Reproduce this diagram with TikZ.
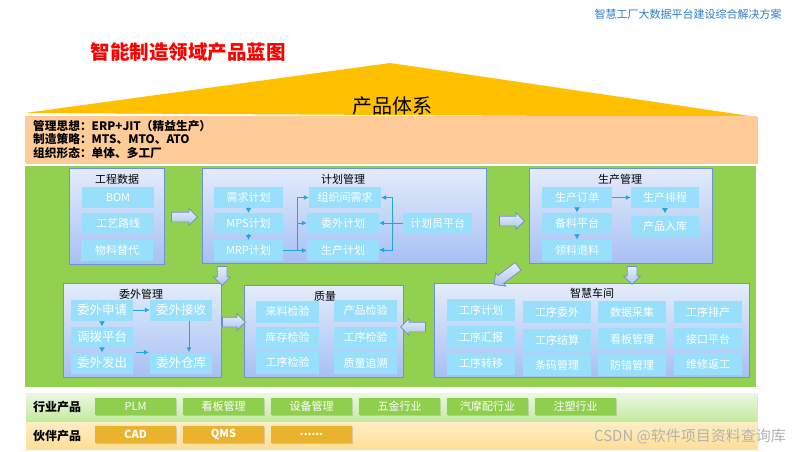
\documentclass[tikz,border=0pt]{standalone}
\usepackage{fontspec}
\setmainfont{Noto Sans CJK SC}
\usetikzlibrary{shapes.arrows,shadows,arrows.meta,calc}
\definecolor{gold}{HTML}{FFC000}
\definecolor{peach}{HTML}{FFCC99}
\definecolor{lgreen}{HTML}{92D050}
\definecolor{modtop}{HTML}{E4ECFB}
\definecolor{modbot}{HTML}{A7C0F4}
\definecolor{modline}{HTML}{6D93D6}
\definecolor{itemfill}{HTML}{97DFFA}
\definecolor{arrblue}{HTML}{1BA6E4}
\definecolor{batop}{HTML}{E6EEFB}
\definecolor{babot}{HTML}{B0C6EE}
\definecolor{baline}{HTML}{6A8DCB}
\definecolor{hytop}{HTML}{EBF8E1}
\definecolor{hybot}{HTML}{C3EA9F}
\definecolor{hbtn}{HTML}{8FCF4E}
\definecolor{pttop}{HTML}{FFEDC4}
\definecolor{ptbot}{HTML}{FFDF98}
\definecolor{pbtn}{HTML}{EBB22E}
\definecolor{hdrblue}{HTML}{2E7DC8}
\newcommand\myfs[1]{\fontsize{#1}{#1}\selectfont}
\tikzset{
  module/.style={draw=modline, line width=0.8pt, top color=modtop, bottom color=modbot,
    drop shadow={opacity=0.35, shadow xshift=1pt, shadow yshift=-1pt}, inner sep=0pt},
  mtitle/.style={font=\myfs{11}, text=black, inner sep=0pt},
  item/.style={fill=itemfill, text=white, font=\myfs{11}, inner sep=0pt,
    minimum width=70pt, minimum height=21pt},
  witem/.style={item, font=\myfs{12.5}, minimum width=62pt},
  arr/.style={draw=arrblue, line width=0.9pt, -{Latex[length=5pt,width=5pt]}},
  tri/.style={draw=arrblue, line width=0.9pt, -{Latex[length=5pt,width=6pt]}},
  barrow/.style={single arrow, draw=baline, line width=0.7pt, top color=batop, bottom color=babot,
    minimum width=16pt, inner xsep=0pt, inner ysep=4.5pt, single arrow head extend=3.5pt},
  hbutton/.style={fill=hbtn, text=white, font=\myfs{11}, inner sep=0pt, minimum width=81pt,
    minimum height=17pt, drop shadow={opacity=0.3, shadow xshift=0.8pt, shadow yshift=-0.8pt}},
  pbutton/.style={hbutton, fill=pbtn, font=\myfs{11}\bfseries},
  barlabel/.style={font=\myfs{12}\bfseries, text=black, inner sep=0pt},
  infotext/.style={font=\myfs{11.7}\bfseries, text=black, inner sep=0pt, anchor=west}
}
\begin{document}
\begin{tikzpicture}[x=1pt,y=-1pt]
\useasboundingbox (0,0) rectangle (800,451);
\fill[white] (0,0) rectangle (800,451);

% header texts
\node[text=hdrblue, font=\myfs{11}, inner sep=0pt] (hdr) at (688,14) {智慧工厂大数据平台建设综合解决方案};
\node[text=red, font=\myfs{19.5}\bfseries, inner sep=0pt] (ttl) at (188,52) {智能制造领域产品蓝图};

% roof
\fill[gold] (25,113) -- (390,63) -- (757,117) -- cycle;
\node[font=\myfs{20}, text=black, inner sep=0pt] (roof) at (392,106) {产品体系};

% peach info box
\node[fill=peach, minimum width=732pt, minimum height=47pt, inner sep=0pt,
  drop shadow={opacity=0.35, shadow xshift=1pt, shadow yshift=-1pt}] (info) at (391,139.5) {};
\node[infotext] (i1) at (33,126) {管理思想：ERP+JIT（精益生产）};
\node[infotext] (i2) at (33,139.5) {制造策略：MTS、MTO、ATO};
\node[infotext] (i3) at (33,153) {组织形态：单体、多工厂};

% green area
\fill[lgreen] (25,166) rectangle (756,387);

% ---- modules ----
\node[module, minimum width=95pt, minimum height=96pt] (gc) at (116.5,216) {};
\node[module, minimum width=284pt, minimum height=95pt] (jh) at (344,215.5) {};
\node[module, minimum width=183pt, minimum height=95pt] (sc) at (620.5,215.5) {};
\node[module, minimum width=158pt, minimum height=94pt] (ww) at (142,330) {};
\node[module, minimum width=159pt, minimum height=92pt] (zl) at (323.5,331) {};
\node[module, minimum width=315pt, minimum height=94pt] (cj) at (591.5,330) {};

\node[mtitle] (gct) at (117,179) {工程数据};
\node[mtitle] (jht) at (343,179) {计划管理};
\node[mtitle] (sct) at (620,179) {生产管理};
\node[mtitle] (wwt) at (141,294) {委外管理};
\node[mtitle] (zlt) at (325,296) {质量};
\node[mtitle] (cjt) at (592,293) {智慧车间};

% 工程数据
\node[item, minimum width=72pt] (bom) at (118,197.5) {BOM};
\node[item, minimum width=72pt] (gylx) at (118,223) {工艺路线};
\node[item, minimum width=72pt] (wltd) at (117,250) {物料替代};

% 计划管理
\node[item, minimum width=69pt] (xqjh) at (248.5,197.5) {需求计划};
\node[item, minimum width=69pt] (mps) at (248.5,223.5) {MPS计划};
\node[item, minimum width=69pt] (mrp) at (248.5,250.5) {MRP计划};
\node[item, minimum width=72pt] (zzj) at (345,197.5) {组织间需求};
\node[item, minimum width=72pt] (wwjh) at (343,223) {委外计划};
\node[item, minimum width=72pt] (scjh) at (343,250) {生产计划};
\node[item, minimum width=69pt] (jhy) at (437.5,223) {计划员平台};

\draw[tri] (xqjh.south) -- (mps.north);
\draw[tri] (mps.south) -- (mrp.north);
\coordinate (j1) at (297,250.5);
\draw[arr] (mrp.east) -- (mrp.east -| scjh.west);
\draw[arr] (j1) |- (zzj.west);
\draw[arr] (j1) |- (wwjh.west);
\coordinate (j2) at (392,223);
\draw[arr] (jhy.west) -- (wwjh.east);
\draw[arr] (j2) |- (zzj.east);
\draw[arr] (j2) |- (scjh.east);

% 生产管理
\node[item] (scdd) at (577,197.5) {生产订单};
\node[item, minimum width=68pt] (scpc) at (665,197.5) {生产排程};
\node[item] (blpt) at (577,223) {备料平台};
\node[item, minimum width=68pt] (cprk) at (665,226.5) {产品入库};
\node[item] (lltl) at (577,250) {领料退料};
\draw[arr] (scdd.east) -- (scpc.west);
\draw[tri] (scdd.south) -- (blpt.north);
\draw[tri] (blpt.south) -- (lltl.north);
\draw[tri] (scpc.south) -- ++(0,5);

% 委外管理
\node[witem] (wwsq) at (102,310) {委外申请};
\node[witem] (wwjs) at (181,310) {委外接收};
\node[witem] (dbpt) at (102,337) {调拨平台};
\node[witem] (wwfc) at (102,363) {委外发出};
\node[witem] (wwck) at (181,363) {委外仓库};
\draw[arr] (wwsq.east) -- (wwjs.west);
\draw[tri] (wwsq.south) -- (dbpt.north);
\draw[tri] (dbpt.south) -- (wwfc.north);
\draw[arr] ($(wwfc.north east)+(3,0)$) -- ($(wwck.north west)+(-1,0)$);
\draw[arr] ($(wwjs.south)+(8,0)$) -- ($(wwck.north)+(8,0)$);

% 质量
\tikzset{qitem/.style={item, minimum width=63pt, minimum height=22pt}}
\node[qitem] (llj) at (287.5,311.5) {来料检验};
\node[qitem] (cpj) at (365.5,310.5) {产品检验};
\node[qitem] (kcj) at (287.5,337.5) {库存检验};
\node[qitem] (gxj1) at (365.5,337.5) {工序检验};
\node[qitem] (gxj2) at (287.5,362.5) {工序检验};
\node[qitem] (zlzs) at (365.5,363) {质量追溯};

% 智慧车间
\tikzset{citem/.style={item, minimum width=68pt, minimum height=22pt}}
\node[citem] (c11) at (481,310) {工序计划};
\node[citem] (c12) at (481,337) {工序汇报};
\node[citem] (c13) at (481,363.5) {工序转移};
\node[citem] (c21) at (557,312) {工序委外};
\node[citem] (c22) at (557,340) {工序结算};
\node[citem] (c23) at (557,365) {条码管理};
\node[citem] (c31) at (632,312) {数据采集};
\node[citem] (c32) at (632,339) {看板管理};
\node[citem] (c33) at (632,365) {防错管理};
\node[citem] (c41) at (708,312) {工序排产};
\node[citem] (c42) at (708,339) {接口平台};
\node[citem] (c43) at (708,364) {维修返工};

% block arrows between modules
\node[barrow, minimum height=26pt] (a1) at (182,217) {};
\node[barrow, minimum height=25pt] (a2) at (509.5,221) {};
\node[barrow, minimum height=19pt, rotate=-90] (a3) at (222,273.5) {};
\node[barrow, minimum height=30pt, rotate=217] (a4) at (508,274) {};
\node[barrow, minimum height=18pt, rotate=-90] (a5) at (632,273) {};
\node[barrow, minimum height=23pt] (a6) at (231.5,322) {};
\node[barrow, minimum height=25pt, rotate=180] (a7) at (415.5,327) {};

% industry bar
\node[top color=hytop, bottom color=hybot, minimum width=731pt, minimum height=28pt, inner sep=0pt,
  drop shadow={opacity=0.25, shadow xshift=0.8pt, shadow yshift=-0.8pt}] (hy) at (391.5,407) {};
\node[barlabel] (hyl) at (57,407) {行业产品};
\node[hbutton] (b1) at (135.5,406.5) {PLM};
\node[hbutton] (b2) at (223.5,406.5) {看板管理};
\node[hbutton] (b3) at (311.5,406.5) {设备管理};
\node[hbutton] (b4) at (399.5,406.5) {五金行业};
\node[hbutton] (b5) at (487.5,406.5) {汽摩配行业};
\node[hbutton] (b6) at (575.5,406.5) {注塑行业};

% partner bar
\node[top color=pttop, bottom color=ptbot, minimum width=731pt, minimum height=27pt, inner sep=0pt,
  drop shadow={opacity=0.25, shadow xshift=0.8pt, shadow yshift=-0.8pt}] (pt) at (391.5,435.5) {};
\node[barlabel] (ptl) at (57,435.5) {伙伴产品};
\node[pbutton] (p1) at (135.5,434.5) {CAD};
\node[pbutton] (p2) at (223.5,434.5) {QMS};
\node[pbutton] (p3) at (311.5,434.5) {......};

% watermark
\node[text=black!30, font=\myfs{15}, inner sep=0pt] (wm) at (690,436) {CSDN @软件项目资料查询库};
\end{tikzpicture}
\end{document}
